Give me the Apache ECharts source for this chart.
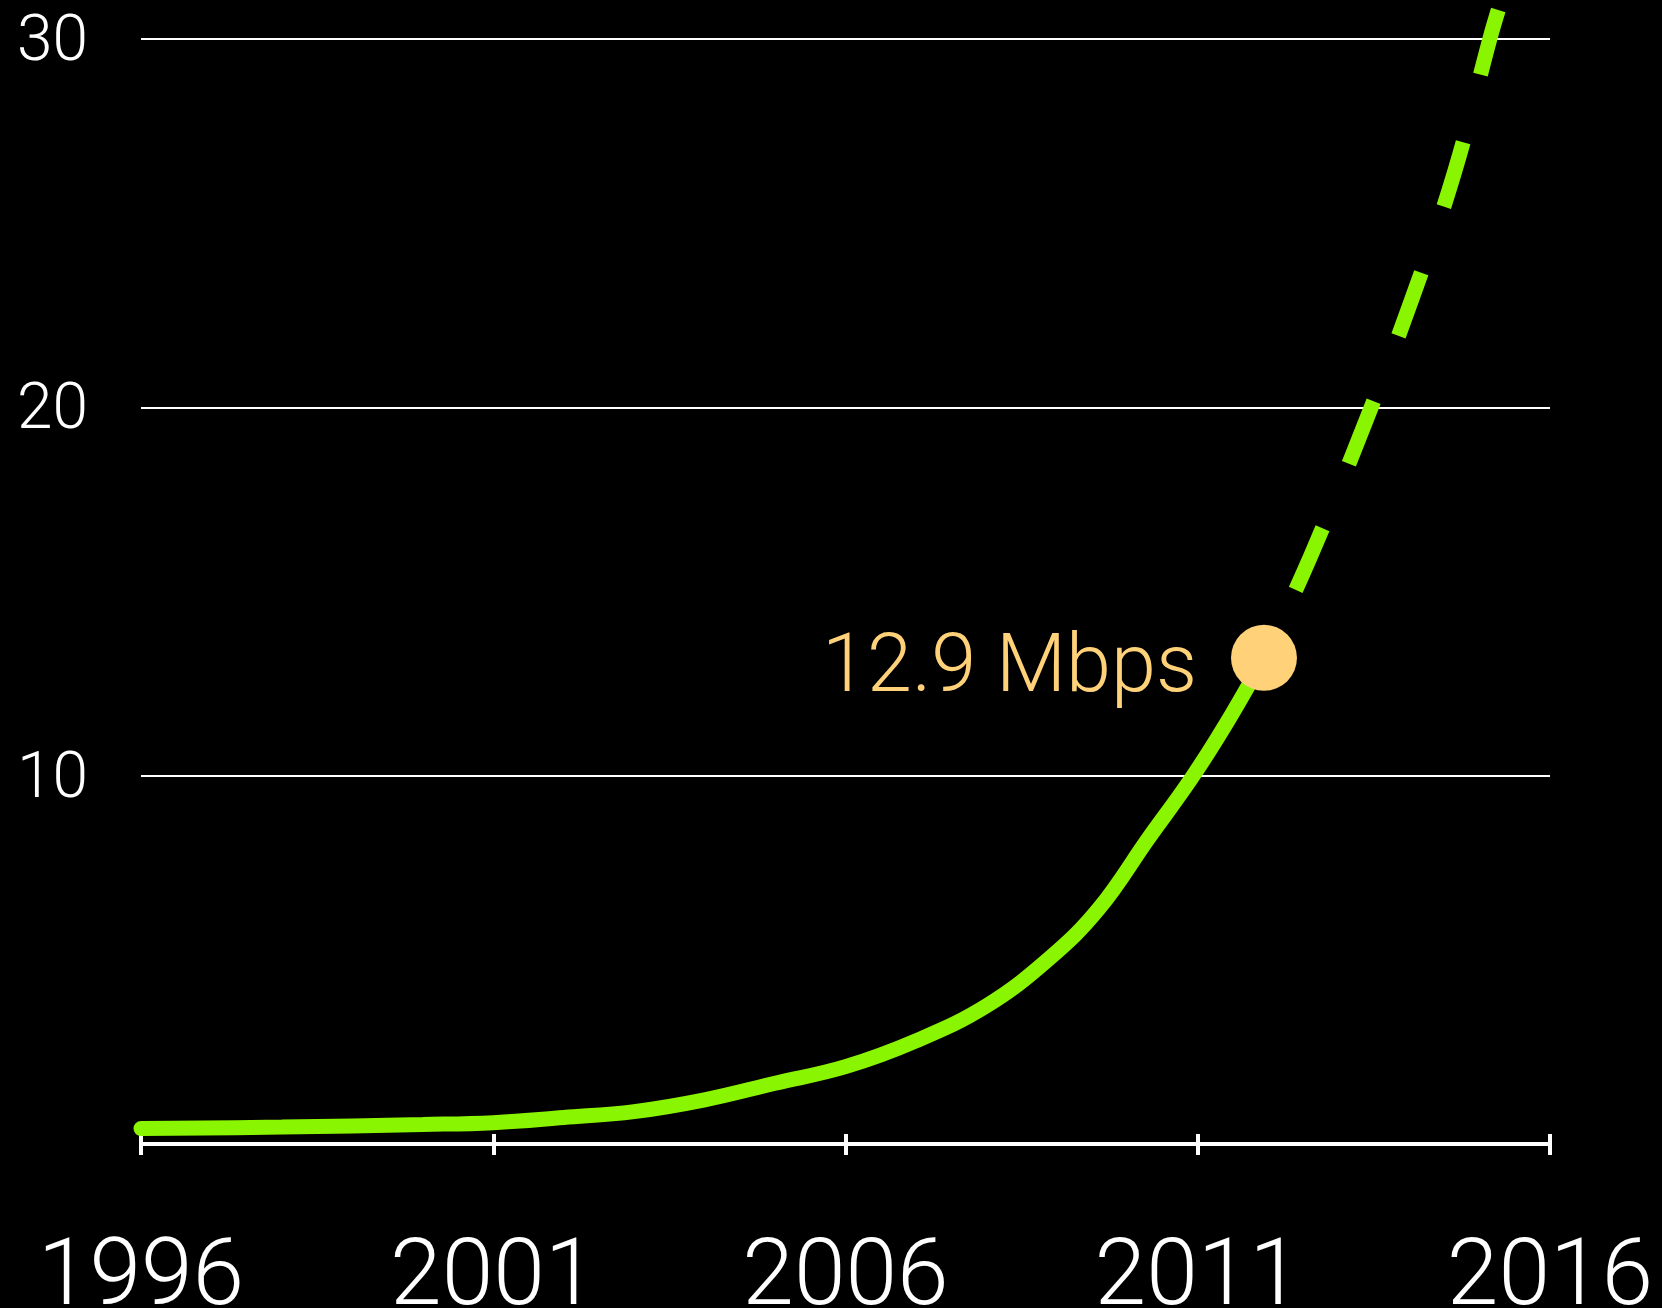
<!DOCTYPE html>
<html>
<head>
<meta charset="utf-8">
<script src="https://cdn.jsdelivr.net/npm/echarts/dist/echarts.min.js"></script>
<style>
    html, body { margin: 0; padding: 0; background: #000; }
    #chart { width: 1662px; height: 1308px; }
</style>
</head>
<body>
<div id="chart"></div>
<script>
    // measured speeds, Mbps
    const solidYears = [1996, 1998, 2000, 2001, 2002, 2003, 2004, 2005, 2006, 2007, 2008, 2008.9, 2009.6, 2010.3, 2010.9, 2011.4, 2011.94];
    const solidValues = [0.42, 0.46, 0.53, 0.58, 0.72, 0.88, 1.2, 1.65, 2.1, 2.8, 3.75, 5.05, 6.4, 8.3, 9.9, 11.4, 13.2];

    // projection (dashed)
    const trendYears = [2011.94, 2012.58, 2013.33, 2014.03, 2014.65, 2015.15, 2015.3];
    const trendValues = [13.2, 15.86, 19.36, 22.89, 26.42, 30.03, 31.0];

    const markYear = 2011.94;
    const markValue = 13.2;
    const markText = "12.9 Mbps";

    const yearTicks = [1996, 2001, 2006, 2011, 2016];
    const speedTicks = [0, 10, 20, 30];

    const green = "#8AF500";
    const peach = "#FFD27A";
    const font = "Roboto";

    const zip = (xs, ys) => xs.map((x, i) => [x, ys[i]]);

    const chart = echarts.init(document.getElementById("chart"));

    const option = {
        backgroundColor: "#000",
        animation: false,
        grid: { left: 141, right: 112, top: 39, bottom: 164, outerBoundsMode: "none", containLabel: false },
        xAxis: [
            {
                type: "value",
                min: yearTicks[0],
                max: yearTicks[yearTicks.length - 1],
                interval: 5,
                axisLine: { lineStyle: { color: "#fff", width: 4 } },
                axisTick: { length: 11, lineStyle: { color: "#fff", width: 4 } },
                axisLabel: {
                    color: "#fff",
                    fontSize: 93,
                    fontFamily: font,
                    fontWeight: 300,
                    margin: 90,
                    formatter: v => String(v)
                },
                splitLine: { show: false }
            },
            {
                type: "value",
                position: "bottom",
                min: yearTicks[0],
                max: yearTicks[yearTicks.length - 1],
                interval: 5,
                axisLine: { show: false },
                axisTick: { inside: true, length: 10, lineStyle: { color: "#fff", width: 4 } },
                axisLabel: { show: false },
                splitLine: { show: false }
            }
        ],
        yAxis: {
            type: "value",
            min: speedTicks[0],
            max: speedTicks[speedTicks.length - 1],
            interval: 10,
            axisLine: { show: false },
            axisTick: { show: false },
            axisLabel: {
                color: "#fff",
                fontSize: 64,
                fontFamily: font,
                fontWeight: 300,
                margin: 53,
                verticalAlign: "top",
                lineHeight: 10,
                showMinLabel: false
            },
            splitLine: { lineStyle: { color: "#fff", width: 2 } }
        },
        series: [
            {
                name: "measured",
                type: "line",
                smooth: 0.4,
                symbol: "none",
                data: zip(solidYears, solidValues),
                lineStyle: { color: green, width: 15, cap: "round" },
                z: 3
            },
            {
                name: "trend",
                type: "line",
                smooth: 0.4,
                symbol: "none",
                clip: false,
                data: zip(trendYears, trendValues),
                lineStyle: { color: green, width: 15, type: [67, 70], dashOffset: 62, cap: "butt" },
                z: 3
            },
            {
                name: "now",
                type: "scatter",
                symbol: "circle",
                symbolSize: 66,
                data: [[markYear, markValue]],
                itemStyle: { color: peach, opacity: 1 },
                label: {
                    show: true,
                    position: "left",
                    distance: 34,
                    offset: [0, 13],
                    formatter: markText,
                    color: peach,
                    fontSize: 81,
                    fontFamily: font,
                    fontWeight: 300
                },
                z: 5
            }
        ]
    };

    chart.setOption(option);
</script>
</body>
</html>
